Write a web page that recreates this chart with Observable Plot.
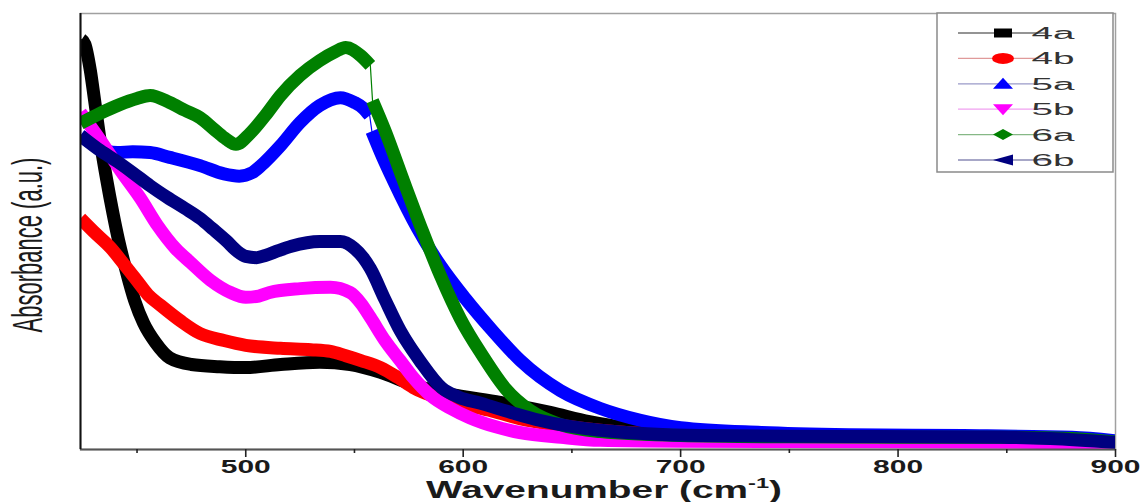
<!DOCTYPE html>
<html><head><meta charset="utf-8">
<script src="https://cdn.jsdelivr.net/npm/d3@7"></script>
<script src="https://cdn.jsdelivr.net/npm/@observablehq/plot@0.6"></script>
<style>body{margin:0;background:#fff} svg{display:block}</style>
</head><body><div id="chart"></div>
<script>
// ---- data (wavenumber, absorbance a.u.) ----
const seriesNames = ["4a","4b","5a","5b","6a","6b"];
const seriesColors = ["#000000","#ff0000","#0000ff","#ff00ff","#008000","#000080"];
const legendLineColors = ["#707070","#e09a9a","#9a9ac8","#f0a0f0","#86b886","#8a8ab4"];
const legendSymbols = ["square","circle","triangleUp","triangleDown","diamond","triangleLeft"];

const s4a = [[424.5,0.94],[426,0.93],[428.5,0.87],[430.5,0.80],[433,0.71],[436,0.62],[439,0.54],[441.5,0.48],[445,0.41],[449,0.34],[453,0.29],[458.5,0.245],[465,0.21],[475,0.195],[488,0.19],[500,0.188],[516,0.195],[534,0.2],[548,0.195],[562,0.177],[576,0.15],[593,0.128],[617,0.108],[640,0.085],[658,0.064],[681,0.046],[709,0.034],[750,0.028],[800,0.027],[850,0.027],[880,0.024],[900,0.016]];
const s4b = [[424,0.53],[430,0.50],[437.8,0.463],[444,0.425],[450,0.387],[455,0.355],[461,0.33],[470,0.295],[479,0.266],[490,0.25],[500,0.239],[516,0.232],[530,0.229],[539,0.225],[546,0.215],[553,0.204],[562,0.188],[570,0.165],[577,0.142],[593,0.112],[612,0.09],[626,0.071],[645,0.055],[663,0.044],[700,0.033],[750,0.029],[800,0.028],[850,0.028],[880,0.025],[900,0.017]];
const s5a = [[424,0.72],[430,0.70],[436,0.685],[441,0.681],[448,0.683],[456,0.681],[465,0.67],[479,0.651],[490,0.632],[497,0.627],[503,0.635],[507,0.651],[516,0.697],[525,0.75],[534,0.789],[543.5,0.807],[550,0.796],[554,0.783],[557,0.766],[558,0.73],[563,0.67],[567.9,0.617],[579,0.507],[589.5,0.422],[601,0.346],[613.4,0.273],[626.3,0.204],[644.7,0.135],[663.1,0.094],[681.5,0.067],[700,0.05],[737,0.039],[778,0.034],[830,0.032],[880,0.028],[900,0.02]];
const s5b = [[424,0.773],[433.2,0.709],[442.4,0.64],[451.6,0.576],[459.4,0.514],[467.7,0.461],[474.6,0.429],[483.8,0.388],[493,0.36],[500,0.349],[506,0.352],[511,0.36],[525,0.369],[539,0.372],[548,0.36],[553,0.335],[557.3,0.303],[564,0.25],[571,0.204],[577,0.165],[585,0.124],[594,0.095],[603,0.073],[615,0.052],[626,0.039],[645,0.028],[663,0.021],[700,0.019],[800,0.018],[900,0.015]];
const s6a = [[424,0.748],[433,0.771],[442,0.791],[450,0.805],[456,0.812],[465,0.796],[472,0.778],[479,0.761],[486,0.732],[491,0.712],[495.5,0.70],[502,0.725],[509,0.766],[516,0.812],[525,0.858],[534,0.892],[541,0.912],[546,0.922],[552.7,0.904],[557.3,0.881],[558.3,0.80],[564,0.732],[572.5,0.617],[581.2,0.502],[589.5,0.399],[598.7,0.30],[608.8,0.216],[619.4,0.14],[630.9,0.089],[644.7,0.057],[663.1,0.041],[700,0.032],[750,0.029],[800,0.028],[850,0.028],[880,0.025],[900,0.017]];
const s6b = [[424,0.72],[433,0.686],[441,0.66],[448,0.635],[456,0.605],[464,0.578],[472,0.553],[479,0.53],[485,0.505],[491,0.479],[496,0.455],[500,0.443],[505,0.44],[509,0.445],[515,0.456],[521,0.466],[534,0.477],[543.5,0.477],[550,0.461],[554,0.44],[557.3,0.415],[564,0.344],[571,0.273],[575,0.24],[580,0.204],[590,0.142],[598,0.12],[608,0.106],[622,0.085],[635,0.067],[663,0.044],[709,0.032],[778,0.03],[847,0.028],[870,0.025],[900,0.016]];

const xTicksMajor = [500,600,700,800,900];
const xTicksMinor = [450,550,650,750,850];
const xDomain = [424,900];
const brokenSeries = ["5a","6a"];
const breakAt = 557.8;

const seriesData = [s4a,s4b,s5a,s5b,s6a,s6b];
const rows = seriesData.flatMap((arr,i)=>arr.map(([w,a])=>({
  series: seriesNames[i], w, a,
  seg: seriesNames[i] + ((brokenSeries.includes(seriesNames[i]) && w > breakAt) ? "-2" : "-1")
})));

const seriesMarks = seriesNames.flatMap((name,i)=>{
  const d = rows.filter(r=>r.series===name);
  return [
    Plot.line(d,{x:"w",y:"a",stroke:seriesColors[i],strokeWidth:1.2,clip:true}),
    Plot.line(d,{x:"w",y:"a",z:"seg",stroke:seriesColors[i],strokeWidth:13,curve:"monotone-x",
      strokeLinejoin:"round",strokeLinecap:"butt",clip:true})
  ];
});

const chart = Plot.plot({
  width:1142, height:502,
  marginLeft:80, marginRight:27, marginTop:13, marginBottom:53,
  x:{domain:xDomain, axis:null},
  y:{domain:[0,1], axis:null},
  style:{background:"#fff", fontFamily:"'Liberation Sans', Arial, sans-serif", color:"#222"},
  marks:[
    Plot.frame({stroke:"#a0a0a0", strokeWidth:1.5}),
    ...seriesMarks,
    Plot.ruleY([0],{stroke:"#555", strokeWidth:2}),
    Plot.ruleX([xDomain[0]],{stroke:"#111", strokeWidth:2}),
    Plot.axisX(xTicksMinor,{tickSize:4, strokeWidth:1.6, tickFormat:()=>"", label:null}),
    Plot.axisX(xTicksMajor,{tickSize:8, tickPadding:3, strokeWidth:1.6, fontSize:18, fontWeight:"bold",
      tickFormat:d=>String(d), label:null, fill:"#1a1a1a"})
  ]
});
document.getElementById("chart").appendChild(chart);

const svg = d3.select(chart);
// widen tick labels like the stretched original
svg.selectAll('[aria-label="x-axis tick label"] text').each(function(){
  if (this.textContent) { this.setAttribute("textLength", 50); this.setAttribute("lengthAdjust","spacingAndGlyphs"); }
});

// axis titles
const xt = svg.append("text")
  .attr("x", 604).attr("y", 498).attr("text-anchor","middle")
  .attr("font-size", 23).attr("font-weight","bold").attr("fill","#1a1a1a")
  .attr("font-family","'Liberation Sans', Arial, sans-serif")
  .attr("textLength", 356).attr("lengthAdjust","spacingAndGlyphs");
xt.append("tspan").text("Wavenumber (cm");
xt.append("tspan").attr("font-size",14).attr("dy",-10).text("-1");
xt.append("tspan").attr("dy",10).text(")");

svg.append("text")
  .attr("transform","translate(42,245) rotate(-90) scale(1,1.9)")
  .attr("text-anchor","middle").attr("font-size",22).attr("fill","#1a1a1a")
  .attr("font-family","'Liberation Sans', Arial, sans-serif")
  .text("Absorbance (a.u.)");

// legend
const lg = svg.append("g");
lg.append("rect").attr("x",937).attr("y",13).attr("width",176).attr("height",159)
  .attr("fill","#fff").attr("stroke","#8a8a8a").attr("stroke-width",1.5);
const symPath = {
  square: "M-9,-4.5H9V4.5H-9Z",
  circle: null,
  triangleUp: "M0,-6L10,5H-10Z",
  triangleDown: "M-10,-5H10L0,6Z",
  diamond: "M0,-5.5L10,0L0,5.5L-10,0Z",
  triangleLeft: "M-10,0L10,-5.5V5.5Z"
};
seriesNames.forEach((name,i)=>{
  const cy = 33 + i*25.4;
  lg.append("line").attr("x1",958).attr("x2",1047).attr("y1",cy).attr("y2",cy)
    .attr("stroke",legendLineColors[i]).attr("stroke-width",1.3);
  const s = legendSymbols[i];
  if (s === "circle") {
    lg.append("ellipse").attr("cx",1003).attr("cy",cy).attr("rx",11).attr("ry",5.5).attr("fill",seriesColors[i]);
  } else {
    lg.append("path").attr("d",symPath[s]).attr("transform",`translate(1003,${cy})`).attr("fill",seriesColors[i]);
  }
  lg.append("text").attr("x",1053).attr("y",cy+6).attr("font-size",16)
    .attr("font-family","'Liberation Sans', Arial, sans-serif").attr("fill","#333")
    .attr("textLength",43).attr("lengthAdjust","spacingAndGlyphs").text(name);
});
</script>
</body></html>
